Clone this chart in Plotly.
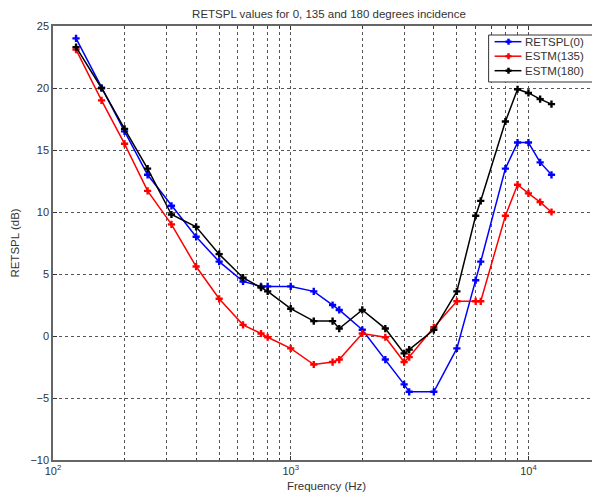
import math
import plotly.graph_objects as go

freqs = [125, 160, 200, 250, 315, 400, 500, 630, 750, 800, 1000, 1250, 1500, 1600,
         2000, 2500, 3000, 3150, 4000, 5000, 6000, 6300, 8000, 9000, 10000, 11200, 12500]

retspl0 = [24.0, 20.0, 16.5, 13.0, 10.5, 8.0, 6.0, 4.4, 4.0, 4.0, 4.0, 3.6, 2.5, 2.1,
           0.5, -1.9, -3.9, -4.5, -4.5, -1.0, 4.5, 6.0, 13.5, 15.6, 15.6, 14.0, 13.0]
estm135 = [23.1, 19.0, 15.5, 11.7, 9.0, 5.6, 3.0, 0.9, 0.2, -0.1, -1.0, -2.3, -2.1, -1.9,
           0.2, -0.1, -2.1, -1.7, 0.7, 2.8, 2.8, 2.8, 9.7, 12.2, 11.5, 10.8, 10.0]
estm180 = [23.3, 20.0, 16.7, 13.5, 9.8, 8.8, 6.6, 4.7, 3.9, 3.6, 2.2, 1.2, 1.2, 0.6,
           2.1, 0.6, -1.4, -1.1, 0.5, 3.6, 9.7, 10.9, 17.3, 19.9, 19.6, 19.1, 18.7]

names = ["RETSPL(0)", "ESTM(135)", "ESTM(180)"]
colors = ["#0000ff", "#ff0000", "#000000"]
series = [retspl0, estm135, estm180]

xticks = [100, 1000, 10000]
xticktext = ["10<sup>2</sup>", "10<sup>3</sup>", "10<sup>4</sup>"]
yticks = [-10, -5, 0, 5, 10, 15, 20, 25]
x_limits = [100, 20000]
y_limits = [-10, 25]

# figure layout (pixels)
W, H = 600, 499
ML, MR, MT, MB = 44, 6, 18, 47
PW, PH = W - ML - MR, H - MT - MB


def px(xp):
    return (xp - ML) / PW


def py(yp):
    return (H - MB - yp) / PH


fig = go.Figure()
for name, col, vals in zip(names, colors, series):
    fig.add_trace(go.Scatter(
        x=freqs, y=vals, name=name, mode="lines+markers",
        line=dict(color=col, width=1.5),
        marker=dict(symbol="cross", size=6, color=col, line=dict(width=0)),
        showlegend=False,
    ))

# legend box drawn as shapes/annotations (MATLAB style, compact)
shapes = [dict(type="rect", xref="paper", yref="paper",
               x0=px(482), x1=px(589), y0=py(74), y1=py(27),
               fillcolor="white", line=dict(color="#333333", width=1), layer="above")]
annotations = []
row_y = [33.7, 48.2, 62.7]
for name, col, ry in zip(names, colors, row_y):
    shapes.append(dict(type="line", xref="paper", yref="paper",
                       x0=px(488), x1=px(515), y0=py(ry), y1=py(ry),
                       line=dict(color=col, width=1.5), layer="above"))
    shapes.append(dict(type="line", xref="paper", yref="paper",
                       x0=px(499), x1=px(505), y0=py(ry), y1=py(ry),
                       line=dict(color=col, width=2.5), layer="above"))
    shapes.append(dict(type="line", xref="paper", yref="paper",
                       x0=px(502), x1=px(502), y0=py(ry - 3), y1=py(ry + 3),
                       line=dict(color=col, width=2.5), layer="above"))
    annotations.append(dict(text=name, xref="paper", yref="paper",
                            x=px(517), y=py(ry), xanchor="left", yanchor="middle",
                            showarrow=False, font=dict(size=11.5, color="#333333")))

grid_col = "#555555"
fig.update_layout(
    width=W, height=H,
    margin=dict(l=ML, r=MR, t=MT, b=MB),
    paper_bgcolor="white", plot_bgcolor="white",
    font=dict(family="Liberation Sans, Arial, sans-serif", size=11, color="#333333"),
    title=dict(text="RETSPL values for 0, 135 and 180 degrees incidence",
               x=0.535, xanchor="center", y=0.997, yanchor="top",
               font=dict(size=11.5, color="#333333")),
    showlegend=False,
    shapes=shapes,
    annotations=annotations,
    xaxis=dict(
        type="log", range=[math.log10(x_limits[0]), math.log10(x_limits[1])],
        tickvals=xticks, ticktext=xticktext,
        showgrid=True, gridcolor=grid_col, griddash="dot", gridwidth=1,
        ticks="inside", ticklen=4, tickcolor="#333333",
        showline=True, linecolor="#666666", linewidth=1.5, mirror="ticks",
        minor=dict(dtick="D1", showgrid=True, gridcolor=grid_col, griddash="dot",
                   gridwidth=1, ticks="inside", ticklen=2, tickcolor="#333333"),
        title=dict(text="Frequency (Hz)", standoff=6, font=dict(size=11.5)),
        zeroline=False,
    ),
    yaxis=dict(
        range=y_limits, tickvals=yticks,
        showgrid=True, gridcolor=grid_col, griddash="dot", gridwidth=1,
        ticks="inside", ticklen=4, tickcolor="#333333",
        showline=True, linecolor="#666666", linewidth=1.5, mirror="ticks",
        title=dict(text="RETSPL (dB)", standoff=8, font=dict(size=11.5)),
        zeroline=False,
    ),
)

fig.write_html("out.html")
